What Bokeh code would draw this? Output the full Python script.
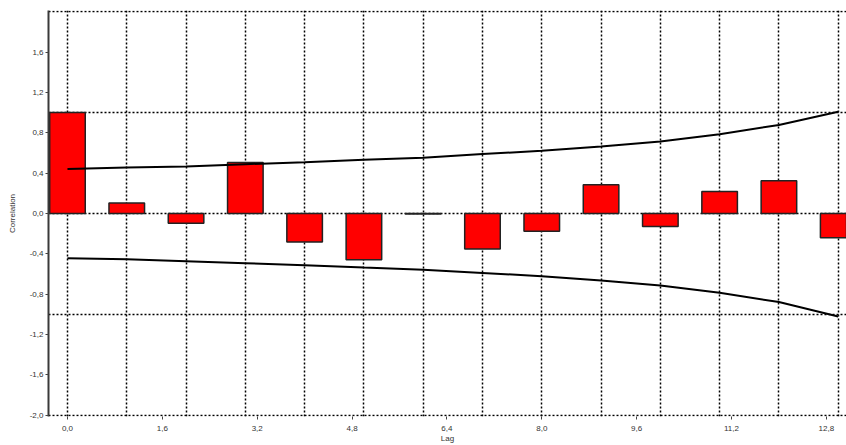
from bokeh.plotting import figure
from bokeh.models import FixedTicker, Range1d
from bokeh.embed import file_html
from bokeh.resources import INLINE

# ---- data ----
lags = [0, 1, 2, 3, 4, 5, 6, 7, 8, 9, 10, 11, 12, 13]
acf = [1.0, 0.105, -0.096, 0.506, -0.283, -0.458, -0.006, -0.352, -0.175, 0.286, -0.128, 0.217, 0.325, -0.24]
upper = [0.44, 0.455, 0.467, 0.489, 0.507, 0.532, 0.553, 0.589, 0.621, 0.664, 0.713, 0.786, 0.878, 1.009]
lower = [-0.444, -0.454, -0.473, -0.493, -0.513, -0.536, -0.557, -0.589, -0.621, -0.664, -0.713, -0.786, -0.878, -1.02]

x_ticks = [0.0, 1.6, 3.2, 4.8, 6.4, 8.0, 9.6, 11.2, 12.8]
x_labels = ["0,0", "1,6", "3,2", "4,8", "6,4", "8,0", "9,6", "11,2", "12,8"]
y_ticks = [-2.0, -1.6, -1.2, -0.8, -0.4, 0.0, 0.4, 0.8, 1.2, 1.6]
y_labels = ["-2,0", "-1,6", "-1,2", "-0,8", "-0,4", "0,0", "0,4", "0,8", "1,2", "1,6"]
y_grid = [-2, -1, 0, 1, 2]

FONT = "Liberation Sans"
TXT = "#333333"

p = figure(width=846, height=445, output_backend="svg", toolbar_location=None,
           x_range=Range1d(-0.32, 13.14), y_range=Range1d(-2.012, 2.012),
           min_border_left=48, min_border_right=0, min_border_top=10, min_border_bottom=28)
p.outline_line_color = None
p.background_fill_color = "white"

# grids
p.xgrid.ticker = FixedTicker(ticks=lags)
p.ygrid.ticker = FixedTicker(ticks=y_grid)
for g in (p.xgrid, p.ygrid):
    g.grid_line_color = "black"
    g.grid_line_dash = "2 2"
    g.grid_line_width = 1.5
    g.grid_line_alpha = 1.0

# axes
p.xaxis.ticker = FixedTicker(ticks=x_ticks)
p.xaxis.major_label_overrides = {t: l for t, l in zip(x_ticks, x_labels)}
p.yaxis.ticker = FixedTicker(ticks=y_ticks)
p.yaxis.major_label_overrides = {t: l for t, l in zip(y_ticks, y_labels)}
p.xaxis.axis_label = "Lag"
p.yaxis.axis_label = "Correlation"
for ax in (p.xaxis, p.yaxis):
    ax.major_label_text_font = FONT
    ax.major_label_text_font_size = "8px"
    ax.major_label_text_color = TXT
    ax.axis_label_text_font = FONT
    ax.axis_label_text_font_size = "8px"
    ax.axis_label_text_color = TXT
    ax.axis_label_text_font_style = "normal"
    ax.minor_tick_line_color = None
    ax.major_tick_in = 0
    ax.major_tick_out = 3
    ax.major_tick_line_color = "#444444"
p.xaxis.axis_line_color = None
p.xaxis.major_label_standoff = 6
p.xaxis.axis_label_standoff = 0
p.yaxis.axis_line_color = "#3a3a3a"
p.yaxis.axis_line_width = 2
p.yaxis.major_label_standoff = 2
p.yaxis.axis_label_standoff = 10

# bars
p.vbar(x=lags, top=acf, bottom=0, width=0.6, fill_color="#FF0000",
       line_color="#222222", line_width=1.5)

# confidence limits
p.line(lags, upper, line_color="black", line_width=2)
p.line(lags, lower, line_color="black", line_width=2)

open("out.html", "w").write(file_html(p, INLINE))
